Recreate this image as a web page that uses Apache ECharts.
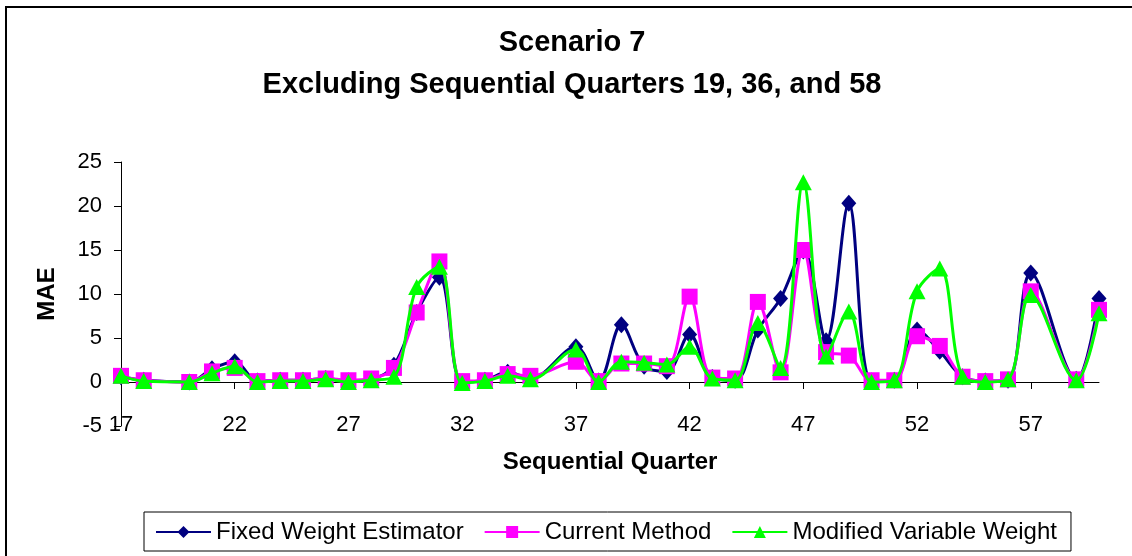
<!DOCTYPE html>
<html>
<head>
<meta charset="utf-8">
<title>Scenario 7 MAE</title>
<script src="https://cdn.jsdelivr.net/npm/echarts@6/dist/echarts.min.js"></script>
<style>
  html, body { margin: 0; padding: 0; background: #fff; }
  #chart { width: 1132px; height: 556px; }
</style>
</head>
<body>
<div id="chart"></div>
<script>
// Sequential quarters shown (19, 36 and 58 are excluded)
const quarters = [17, 18, 20, 21, 22, 23, 24, 25, 26, 27, 28, 29, 30, 31, 32, 33, 34, 35,
  37, 38, 39, 40, 41, 42, 43, 44, 45, 46, 47, 48, 49, 50, 51, 52, 53, 54, 55, 56, 57, 59, 60];

// Mean absolute error per quarter
const fixedWeight = [0.6, 0.2, 0.0, 1.5, 2.3, 0.1, 0.2, 0.2, 0.4, 0.1, 0.3, 1.9, 7.9, 11.9, 0.0, 0.2, 1.1, 0.4,
  4.0, 0.1, 6.5, 1.8, 1.2, 5.4, 0.5, 0.2, 5.9, 9.5, 14.9, 4.7, 20.3, 0.1, 0.2, 5.9, 3.5, 0.6, 0.1, 0.2, 12.4, 0.3, 9.5];
const currentMethod = [0.7, 0.2, 0.0, 1.2, 1.6, 0.1, 0.2, 0.2, 0.4, 0.2, 0.4, 1.6, 7.9, 13.7, 0.1, 0.2, 0.9, 0.7,
  2.3, 0.1, 2.1, 2.1, 1.8, 9.7, 0.5, 0.4, 9.1, 1.1, 15.0, 3.4, 3.0, 0.2, 0.2, 5.2, 4.1, 0.6, 0.1, 0.3, 10.3, 0.3, 8.2];
const modifiedVariable = [0.7, 0.1, 0.0, 1.0, 1.8, 0.0, 0.1, 0.1, 0.3, 0.0, 0.2, 0.6, 10.8, 13.1, -0.1, 0.1, 0.7, 0.3,
  3.7, 0.0, 2.3, 2.2, 2.0, 4.0, 0.4, 0.2, 6.7, 1.6, 22.7, 2.9, 8.0, 0.0, 0.2, 10.3, 12.9, 0.6, 0.0, 0.3, 9.9, 0.2, 7.8];

// Axis tick labels
const xTickLabels = [17, 22, 27, 32, 37, 42, 47, 52, 57];
const yTickLabels = [-5, 0, 5, 10, 15, 20, 25];

const FONT = "'Liberation Sans', Arial, sans-serif";

function pairs(values) {
  return quarters.map((q, i) => [q, values[i]]);
}

const chart = echarts.init(document.getElementById('chart'), null, { renderer: 'canvas' });

chart.setOption({
  backgroundColor: '#ffffff',
  animation: false,
  title: [
    {
      text: 'Scenario 7',
      left: 572, top: 28, textAlign: 'center', padding: 0,
      textStyle: { fontFamily: FONT, fontSize: 29, fontWeight: 'bold', color: '#000', lineHeight: 29 }
    },
    {
      text: 'Excluding Sequential Quarters 19, 36, and 58',
      left: 572, top: 70, textAlign: 'center', padding: 0,
      textStyle: { fontFamily: FONT, fontSize: 29, fontWeight: 'bold', color: '#000', lineHeight: 29 }
    }
  ],
  graphic: [
    {
      type: 'rect',
      shape: { x: 6, y: 7, width: 1200, height: 600 },
      style: { fill: 'none', stroke: '#000', lineWidth: 2 },
      silent: true
    }
  ],
  legend: {
    left: 144, top: 512,
    padding: [8, 14, 7, 11],
    itemGap: 20,
    itemWidth: 55,
    itemHeight: 15,
    borderColor: '#000',
    borderWidth: 1,
    textStyle: { fontFamily: FONT, fontSize: 24, color: '#000' },
    data: ['Fixed Weight Estimator', 'Current Method', 'Modified Variable Weight']
  },
  grid: {
    left: 121, right: 33, top: 162, bottom: 130,
    outerBoundsMode: 'none',
    containLabel: false
  },
  xAxis: {
    type: 'value',
    min: 17, max: 60, interval: 5,
    name: 'Sequential Quarter',
    nameLocation: 'middle',
    nameGap: 24,
    nameTextStyle: { fontFamily: FONT, fontSize: 24, fontWeight: 'bold', color: '#000' },
    axisLine: { onZero: true, lineStyle: { color: '#000', width: 1 } },
    axisTick: { show: true, length: 7, lineStyle: { color: '#000' }, customValues: xTickLabels },
    axisLabel: {
      margin: -12,
      fontFamily: FONT, fontSize: 22, color: '#000',
      customValues: xTickLabels
    },
    splitLine: { show: false }
  },
  yAxis: {
    type: 'value',
    min: -5, max: 25, interval: 5,
    name: 'MAE',
    nameLocation: 'middle',
    nameGap: 62,
    nameRotate: 90,
    nameTextStyle: { fontFamily: FONT, fontSize: 24, fontWeight: 'bold', color: '#000' },
    axisLine: { show: true, onZero: false, lineStyle: { color: '#000', width: 1 } },
    axisTick: { show: true, length: 7, lineStyle: { color: '#000' } },
    axisLabel: {
      margin: 19,
      fontFamily: FONT, fontSize: 22, color: '#000',
      customValues: yTickLabels
    },
    splitLine: { show: false }
  },
  series: [
    {
      name: 'Fixed Weight Estimator',
      type: 'line',
      smooth: 0.35,
      data: pairs(fixedWeight),
      symbol: 'diamond',
      symbolSize: [15, 17],
      lineStyle: { color: '#000080', width: 3 },
      itemStyle: { color: '#000080' },
      z: 2
    },
    {
      name: 'Current Method',
      type: 'line',
      smooth: 0.35,
      data: pairs(currentMethod),
      symbol: 'rect',
      symbolSize: 16,
      lineStyle: { color: '#FF00FF', width: 3 },
      itemStyle: { color: '#FF00FF' },
      z: 3
    },
    {
      name: 'Modified Variable Weight',
      type: 'line',
      smooth: 0.35,
      data: pairs(modifiedVariable),
      symbol: 'triangle',
      symbolSize: [17, 16],
      lineStyle: { color: '#00FF00', width: 3 },
      itemStyle: { color: '#00FF00' },
      z: 4
    }
  ]
});
</script>
</body>
</html>
